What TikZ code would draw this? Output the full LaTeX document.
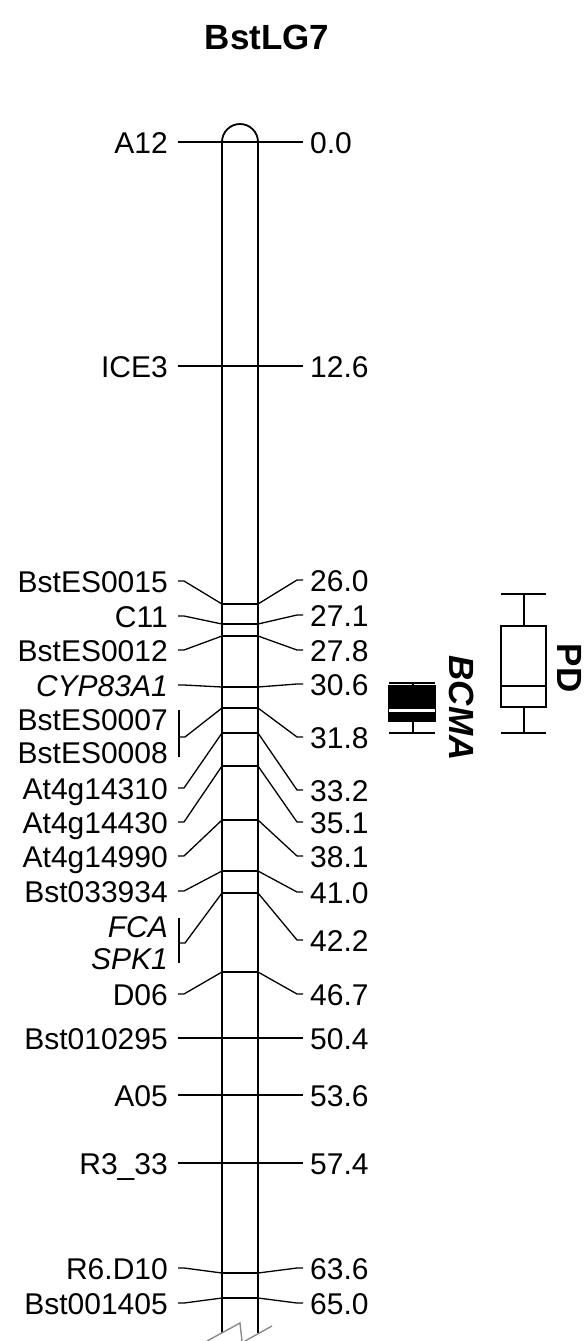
\documentclass[tikz,border=0pt]{standalone}
\usepackage{fontspec}
\setmainfont{Liberation Sans}
\newcommand\mk[6]{%
  \coordinate (tL#1) at (222,#2);
  \coordinate (tR#1) at (258,#2);
  \draw[tickline] (tL#1) -- (tR#1);
  \coordinate (la#1) at (178,#3);
  \coordinate (lb#1) at (184,#3);
  \draw[conn] (la#1) -- (lb#1) -- (tL#1);
  \node[lab,anchor=base east] (ln#1) at (168,{#3+11}) {#4};
  \coordinate (ra#1) at (297,#5);
  \coordinate (rb#1) at (303,#5);
  \draw[conn] (tR#1) -- (ra#1) -- (rb#1);
  \node[lab,anchor=base west] (rn#1) at (310,{#5+11}) {#6};
}
% bracket: id, tick, row1, lab1, row2, lab2, bracket top, bracket bottom, stub row
\newcommand\mkb[9]{%
  \coordinate (tL#1) at (222,#2);
  \coordinate (tR#1) at (258,#2);
  \draw[tickline] (tL#1) -- (tR#1);
  \node[lab,anchor=base east] (lnA#1) at (168,{#3+11}) {#4};
  \node[lab,anchor=base east] (lnB#1) at (168,{#5+11}) {#6};
  \coordinate (bt#1) at (179,#7);
  \coordinate (bb#1) at (179,#8);
  \coordinate (bm#1) at (179,#9);
  \coordinate (bs#1) at (185,#9);
  \draw[conn] (bt#1) -- (bb#1);
  \draw[conn] (bm#1) -- (bs#1) -- (tL#1);
}
\newcommand\mkr[3]{%
  \coordinate (ra#1) at (297,#2);
  \coordinate (rb#1) at (303,#2);
  \draw[conn] (tR#1) -- (ra#1) -- (rb#1);
  \node[lab,anchor=base west] (rn#1) at (310,{#2+11}) {#3};
}
\begin{document}
\begin{tikzpicture}[x=1pt,y=-1pt,
  chrom/.style={line width=1.8pt},
  tickline/.style={line width=1.6pt},
  conn/.style={line width=1.3pt},
  boxl/.style={line width=1.8pt},
  lab/.style={inner sep=0pt, font=\fontsize{30}{36}\selectfont},
  big/.style={inner sep=0pt, font=\fontsize{35}{42}\selectfont\bfseries},
  brk/.style={line width=1.4pt, draw=black!45}]
\useasboundingbox (0,0) rectangle (587,1341);
% title
\node[big,anchor=base] (title) at (267,49) {BstLG7};
% chromosome
\coordinate (cl) at (222,1333);
\coordinate (cr) at (258,1333);
\draw[chrom] (cl) -- (222,142) arc[start angle=180, end angle=0, radius=18pt] -- (cr);
% markers
\mk{a}{142}{142}{A12}{142}{0.0}
\mk{b}{366}{366}{ICE3}{366}{12.6}
\mk{c}{604}{581}{BstES0015}{580}{26.0}
\mk{d}{624}{616}{C11}{615}{27.1}
\mk{e}{636}{650}{BstES0012}{650}{27.8}
\mk{f}{687}{685}{\itshape CYP83A1}{684}{30.6}
\mkb{g}{708}{719}{BstES0007}{752}{BstES0008}{710}{757}{737}
\mkr{g}{737}{31.8}
\mk{h}{733}{788}{At4g14310}{790}{33.2}
\mk{i}{766}{822}{At4g14430}{822}{35.1}
\mk{j}{820}{856}{At4g14990}{856}{38.1}
\mk{k}{871}{891}{Bst033934}{892}{41.0}
\mkb{l}{893}{926}{\itshape FCA}{958}{\itshape SPK1}{918}{963}{943}
\mkr{l}{940}{42.2}
\mk{m}{972}{994}{D06}{994}{46.7}
\mk{n}{1038}{1038}{Bst010295}{1038}{50.4}
\mk{o}{1095}{1095}{A05}{1095}{53.6}
\mk{p}{1163}{1163}{R3\_33}{1163}{57.4}
\mk{q}{1273}{1268}{R6.D10}{1268}{63.6}
\mk{r}{1298}{1303}{Bst001405}{1303}{65.0}
% break symbol
\coordinate (z1) at (207,1341);
\coordinate (z2) at (240,1323);
\coordinate (z3) at (242,1341);
\coordinate (z4) at (245,1341);
\coordinate (z5) at (272,1326);
\draw[brk] (z1) -- (z2) -- (z3);
\draw[brk] (z4) -- (z5);
% BCMA QTL
\coordinate (bcT) at (413,683);
\coordinate (bcB) at (413,733);
\draw[boxl] (389,683) -- (435,683);
\draw[boxl] (389,733) -- (435,733);
\draw[boxl] (bcT) -- (413,686);
\draw[boxl] (413,720) -- (bcB);
\fill (388.1,685) rectangle (435.9,721.5);
\draw[line width=2.2pt, white] (389,710.5) -- (435,710.5);
\node[big,rotate=-90,font=\fontsize{35}{42}\selectfont\bfseries\itshape] (bcma) at (462,708) {BCMA};
% PD QTL
\coordinate (pdT) at (524,594);
\coordinate (pdB) at (524,733);
\draw[boxl] (501,594) -- (546,594);
\draw[boxl] (501,733) -- (546,733);
\draw[boxl] (pdT) -- (524,626);
\draw[boxl] (524,707) -- (pdB);
\draw[boxl] (501,626) rectangle (546,707);
\draw[line width=2.6pt] (501,686) -- (546,686);
\node[big,rotate=-90] (pd) at (570,668) {PD};
\end{tikzpicture}
\end{document}
